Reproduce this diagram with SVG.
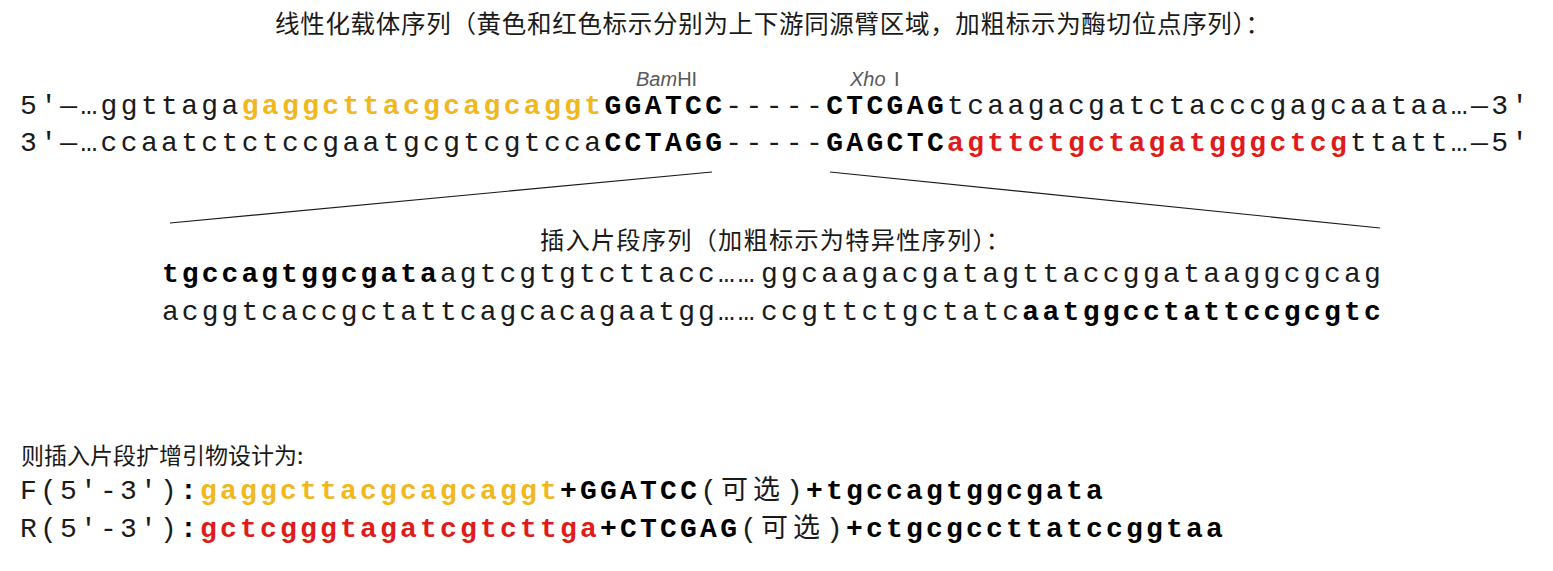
<svg xmlns="http://www.w3.org/2000/svg" width="1553" height="571" viewBox="0 0 1553 571">
<style>
.seq{font-family:'Liberation Mono',monospace;font-size:28px;letter-spacing:3.35px;fill:#1a1a1a}
.b{font-weight:bold;fill:#000}
.y{font-weight:bold;fill:#F0B71E}
.r{font-weight:bold;fill:#E01B1B}
.cjk{font-family:'Noto Sans CJK SC',sans-serif;fill:#1a1a1a}
.lbl{font-family:'Liberation Sans',sans-serif;font-size:20px;fill:#595959}
.conn{stroke:#1a1a1a;stroke-width:1.2;fill:none}
</style>
<rect width="1553" height="571" fill="#fff"/>
<g id="vector">
<text class="cjk" x="275" y="33" font-size="24.5" textLength="995" lengthAdjust="spacing">线性化载体序列（黄色和红色标示分别为上下游同源臂区域，加粗标示为酶切位点序列）：</text>
<text class="lbl" x="636" y="86"><tspan font-style="italic">Bam</tspan>HI</text>
<text class="lbl" x="850" y="86"><tspan font-style="italic">Xho</tspan><tspan x="894">I</tspan></text>
<text class="seq" x="20" y="113.5">5′—…ggttaga<tspan class="y">gaggcttacgcagcaggt</tspan><tspan class="b">GGATCC</tspan>-----<tspan class="b">CTCGAG</tspan>tcaagacgatctacccgagcaataa…—3′</text>
<text class="seq" x="20" y="151">3′—…ccaatctctccgaatgcgtcgtcca<tspan class="b">CCTAGG</tspan>-----<tspan class="b">GAGCTC</tspan><tspan class="r">agttctgctagatgggctcg</tspan>ttatt…—5′</text>
</g>
<g id="connectors">
<line class="conn" x1="712" y1="172" x2="170" y2="223"/>
<line class="conn" x1="830" y1="172" x2="1380" y2="228"/>
</g>
<g id="insert">
<text class="cjk" x="540" y="249" font-size="24.2" textLength="470" lengthAdjust="spacing">插入片段序列（加粗标示为特异性序列）：</text>
<text class="seq" x="162" y="281.5" style="letter-spacing:3.05px"><tspan class="b">tgccagtggcgata</tspan>agtcgtgtcttacc<tspan x="718">……</tspan><tspan x="761" style="letter-spacing:3.3px">ggcaagacgatagttaccggataaggcgcag</tspan></text>
<text class="seq" x="162" y="320" style="letter-spacing:3.05px">acggtcaccgctattcagcacagaatgg<tspan x="718">……</tspan><tspan x="761" style="letter-spacing:3.3px">ccgttctgctatc<tspan class="b">aatggcctattccgcgtc</tspan></tspan></text>
</g>
<g id="primers">
<text class="cjk" x="21" y="464" font-size="23">则插入片段扩增引物设计为:</text>
<text class="seq" x="20" y="498.5" style="letter-spacing:3.2px">F(5′-3′)<tspan class="b">:</tspan><tspan class="y">gaggcttacgcagcaggt</tspan><tspan class="b">+GGATCC</tspan>(<tspan class="cjk" x="721" font-size="27" style="letter-spacing:5px">可选</tspan><tspan x="786">)</tspan><tspan class="b" x="806">+tgccagtggcgata</tspan></text>
<text class="seq" x="20" y="537" style="letter-spacing:3.2px">R(5′-3′)<tspan class="b">:</tspan><tspan class="r">gctcgggtagatcgtcttga</tspan><tspan class="b">+CTCGAG</tspan>(<tspan class="cjk" x="761" font-size="27" style="letter-spacing:5px">可选</tspan><tspan x="826">)</tspan><tspan class="b" x="846">+ctgcgccttatccggtaa</tspan></text>
</g>
</svg>
